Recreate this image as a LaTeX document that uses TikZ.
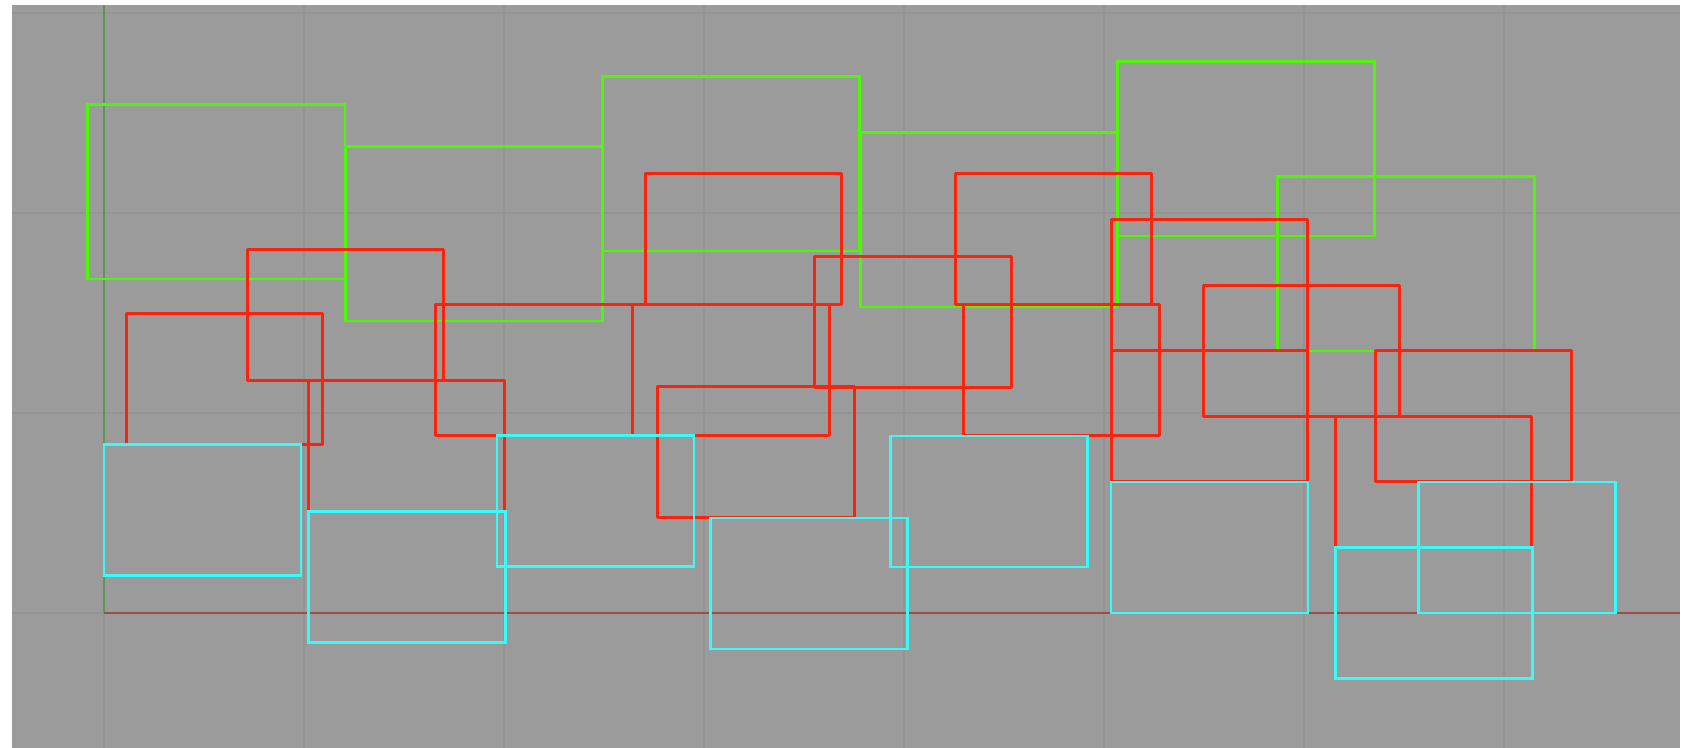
\documentclass[tikz,border=0pt]{standalone}
\usepackage{tikz}
\definecolor{viewgray}{RGB}{155,155,155}
\definecolor{gridgray}{RGB}{148,148,148}
\definecolor{boxgreen}{RGB}{75,250,0}
\definecolor{boxred}{RGB}{250,35,12}
\definecolor{boxcyan}{RGB}{55,250,250}
\definecolor{axisgreen}{RGB}{95,150,85}
\definecolor{axisred}{RGB}{160,75,75}
\begin{document}
\begin{tikzpicture}[x=2cm,y=2cm,
    gridline/.style={gridgray,line width=0.3pt},
    greenbox/.style={boxgreen,line width=0.8pt},
    redbox/.style={boxred,line width=0.85pt,line join=round},
    cyanbox/.style={boxcyan,line width=0.75pt}]
  \useasboundingbox (-0.52,-0.675) rectangle (7.92,3.065);
  \fill[viewgray] (-0.4625,-0.675) rectangle (7.88,3.04);
  \draw[gridline,step=1] (-0.4625,-0.675) grid (7.88,3.04);
  \draw[axisgreen,line width=0.6pt] (0,0) -- (0,3.04);
  \draw[axisred,line width=0.6pt] (0,0) -- (7.88,0);
  % top row
  \draw[greenbox] (-0.082,1.670) rectangle ++(1.287,0.874);
  \draw[greenbox] (1.206,1.460) rectangle ++(1.287,0.874);
  \draw[greenbox] (2.491,1.810) rectangle ++(1.287,0.874);
  \draw[greenbox] (3.782,1.530) rectangle ++(1.287,0.874);
  \draw[greenbox] (5.066,1.885) rectangle ++(1.287,0.874);
  \draw[greenbox] (5.866,1.310) rectangle ++(1.287,0.874);
  % middle row
  \draw[redbox] (0.112,0.843) rectangle ++(0.982,0.655);
  \draw[redbox] (0.716,1.161) rectangle ++(0.982,0.655);
  \draw[redbox] (1.022,0.506) rectangle ++(0.982,0.655);
  \draw[redbox] (1.659,0.888) rectangle ++(0.985,0.655);
  \draw[redbox] (2.707,1.543) rectangle ++(0.982,0.655);
  \draw[redbox] (2.644,0.888) rectangle ++(0.982,0.655);
  \draw[redbox] (3.553,1.129) rectangle ++(0.982,0.655);
  \draw[redbox] (2.768,0.475) rectangle ++(0.984,0.655);
  \draw[redbox] (4.255,1.543) rectangle ++(0.982,0.652);
  \draw[redbox] (4.297,0.885) rectangle ++(0.982,0.655);
  \draw[redbox] (5.036,1.310) rectangle ++(0.981,0.655);
  \draw[redbox] (5.036,0.655) rectangle ++(0.981,0.655);
  \draw[redbox] (5.498,0.984) rectangle ++(0.980,0.653);
  \draw[redbox] (6.156,0.329) rectangle ++(0.980,0.655);
  \draw[redbox] (6.355,0.655) rectangle ++(0.982,0.655);
  % bottom row
  \draw[cyanbox] (0.000,0.188) rectangle ++(0.985,0.655);
  \draw[cyanbox] (1.022,-0.149) rectangle ++(0.985,0.655);
  \draw[cyanbox] (1.965,0.233) rectangle ++(0.985,0.655);
  \draw[cyanbox] (3.032,-0.180) rectangle ++(0.985,0.655);
  \draw[cyanbox] (3.933,0.230) rectangle ++(0.985,0.655);
  \draw[cyanbox] (5.035,0.000) rectangle ++(0.985,0.655);
  \draw[cyanbox] (6.156,-0.326) rectangle ++(0.985,0.655);
  \draw[cyanbox] (6.573,0.000) rectangle ++(0.985,0.655);
\end{tikzpicture}
\end{document}
